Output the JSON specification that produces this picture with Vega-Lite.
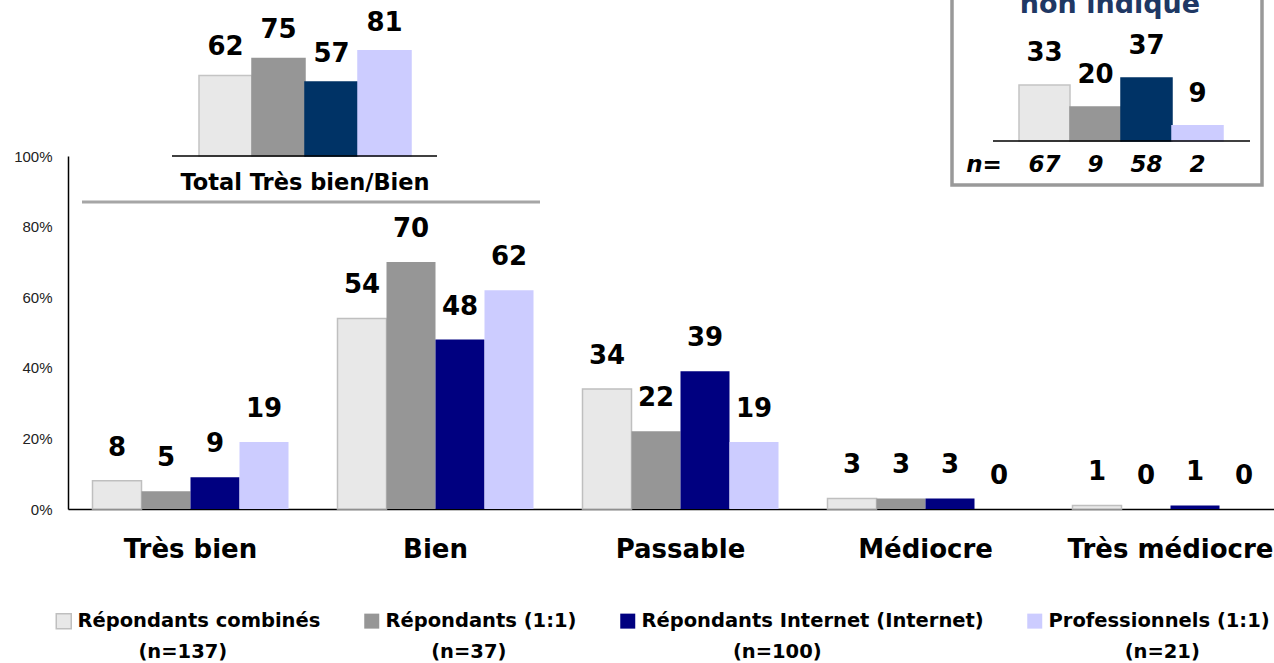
{
  "$schema": "https://vega.github.io/schema/vega-lite/v6.json",
  "width": 1225,
  "height": 353,
  "autosize": {"type": "none"},
  "padding": {"left": 68, "top": 156, "right": -19, "bottom": 154},
  "background": "white",
  "config": {"view": {"stroke": null}, "font": "DejaVu Sans"},
  "datasets": {
    "main": [
      {"cat": "Très bien", "series": "Répondants combinés", "value": 8},
      {"cat": "Très bien", "series": "Répondants (1:1)", "value": 5},
      {"cat": "Très bien", "series": "Répondants Internet (Internet)", "value": 9},
      {"cat": "Très bien", "series": "Professionnels (1:1)", "value": 19},
      {"cat": "Bien", "series": "Répondants combinés", "value": 54},
      {"cat": "Bien", "series": "Répondants (1:1)", "value": 70},
      {"cat": "Bien", "series": "Répondants Internet (Internet)", "value": 48},
      {"cat": "Bien", "series": "Professionnels (1:1)", "value": 62},
      {"cat": "Passable", "series": "Répondants combinés", "value": 34},
      {"cat": "Passable", "series": "Répondants (1:1)", "value": 22},
      {"cat": "Passable", "series": "Répondants Internet (Internet)", "value": 39},
      {"cat": "Passable", "series": "Professionnels (1:1)", "value": 19},
      {"cat": "Médiocre", "series": "Répondants combinés", "value": 3},
      {"cat": "Médiocre", "series": "Répondants (1:1)", "value": 3},
      {"cat": "Médiocre", "series": "Répondants Internet (Internet)", "value": 3},
      {"cat": "Médiocre", "series": "Professionnels (1:1)", "value": 0},
      {"cat": "Très médiocre", "series": "Répondants combinés", "value": 1},
      {"cat": "Très médiocre", "series": "Répondants (1:1)", "value": 0},
      {"cat": "Très médiocre", "series": "Répondants Internet (Internet)", "value": 1},
      {"cat": "Très médiocre", "series": "Professionnels (1:1)", "value": 0}
    ],
    "total": [
      {"series": "Répondants combinés", "value": 62},
      {"series": "Répondants (1:1)", "value": 75},
      {"series": "Répondants Internet (Internet)", "value": 57},
      {"series": "Professionnels (1:1)", "value": 81}
    ],
    "nonind": [
      {"series": "Répondants combinés", "value": 33, "n": "67"},
      {"series": "Répondants (1:1)", "value": 20, "n": "9"},
      {"series": "Répondants Internet (Internet)", "value": 37, "n": "58"},
      {"series": "Professionnels (1:1)", "value": 9, "n": "2"}
    ]
  },
  "layer": [
    {
      "data": {"name": "main"},
      "encoding": {
        "x": {
          "field": "cat", "type": "nominal",
          "sort": ["Très bien", "Bien", "Passable", "Médiocre", "Très médiocre"],
          "scale": {"paddingInner": 0.2, "paddingOuter": 0.1},
          "axis": {"title": null, "ticks": false, "domainColor": "black", "domainWidth": 1.5, "labelFont": "DejaVu Sans", "labelFontWeight": "bold", "labelFontSize": 26, "labelColor": "black", "labelPadding": 27, "labelAngle": 0, "labelLimit": 0}
        },
        "xOffset": {
          "field": "series", "type": "nominal",
          "scale": {"domain": ["Répondants combinés", "Répondants (1:1)", "Répondants Internet (Internet)", "Professionnels (1:1)"], "paddingInner": 0, "paddingOuter": 0}
        },
        "y": {
          "field": "value", "type": "quantitative",
          "scale": {"domain": [0, 100], "nice": false},
          "axis": {"title": null, "values": [0, 20, 40, 60, 80, 100], "labelExpr": "datum.value + '%'", "ticks": false, "grid": false, "domainColor": "black", "domainWidth": 1.5, "labelFont": "Liberation Sans", "labelFontSize": 15, "labelColor": "#222222", "labelPadding": 16}
        }
      },
      "layer": [
        {
          "mark": {"type": "bar", "strokeWidth": 1.5},
          "encoding": {
            "color": {
              "field": "series", "type": "nominal",
              "scale": {"domain": ["Répondants combinés", "Répondants (1:1)", "Répondants Internet (Internet)", "Professionnels (1:1)"], "range": ["#E8E8E8", "#969696", "#000080", "#CCCCFF"]},
              "legend": {
                "title": null, "orient": "none", "legendX": -14, "legendY": 455, "direction": "horizontal", "columns": 4, "padding": 0,
                "symbolType": "square", "symbolSize": 225, "symbolStrokeWidth": 1.5,
                "labelFont": "DejaVu Sans", "labelFontWeight": "bold", "labelFontSize": 19.5, "labelColor": "black", "labelOffset": 4, "columnPadding": 40, "labelLimit": 600,
                "labelExpr": "datum.label == 'Répondants combinés' ? ['Répondants combinés', '\u2800\u2800\u2800\u2800(n=137)'] : datum.label == 'Répondants (1:1)' ? ['Répondants (1:1)', '\u2800\u2800\u2800(n=37)'] : datum.label == 'Répondants Internet (Internet)' ? ['Répondants Internet (Internet)', '\u2800\u2800\u2800\u2800\u2800\u2800(n=100)'] : ['Professionnels (1:1)', '\u2800\u2800\u2800\u2800\u2800(n=21)']",
                "encode": {"labels": {"update": {"lineHeight": {"value": 31}}}}
              }
            },
            "stroke": {
              "field": "series", "type": "nominal",
              "scale": {"domain": ["Répondants combinés", "Répondants (1:1)", "Répondants Internet (Internet)", "Professionnels (1:1)"], "range": ["#BFBFBF", "rgba(0,0,0,0)", "rgba(0,0,0,0)", "rgba(0,0,0,0)"]},
              "legend": null
            }
          }
        },
        {
          "mark": {"type": "text", "fontSize": 26, "fontWeight": "bold", "font": "DejaVu Sans", "color": "black", "dy": -33, "baseline": "middle"},
          "encoding": {"text": {"field": "value", "type": "quantitative"}}
        }
      ]
    },
    {
      "data": {"name": "total"},
      "encoding": {
        "x": {
          "field": "series", "type": "nominal",
          "scale": {"domain": ["Répondants combinés", "Répondants (1:1)", "Répondants Internet (Internet)", "Professionnels (1:1)"], "range": [131, 343], "paddingInner": 0, "paddingOuter": 0},
          "axis": null
        },
        "y": {"field": "value", "type": "quantitative", "scale": {"domain": [-271.5, 0], "nice": false, "zero": false}, "axis": null}
      },
      "layer": [
        {
          "mark": {"type": "bar", "strokeWidth": 1.5},
          "encoding": {
            "y2": {"datum": 0},
            "color": {"field": "series", "type": "nominal", "scale": {"domain": ["Répondants combinés", "Répondants (1:1)", "Répondants Internet (Internet)", "Professionnels (1:1)"], "range": ["#E8E8E8", "#969696", "#003366", "#CCCCFF"]}, "legend": null},
            "stroke": {"field": "series", "type": "nominal", "scale": {"domain": ["Répondants combinés", "Répondants (1:1)", "Répondants Internet (Internet)", "Professionnels (1:1)"], "range": ["#C4C4C4", "#969696", "#003366", "#CCCCFF"]}, "legend": null}
          }
        },
        {
          "mark": {"type": "text", "fontSize": 26, "fontWeight": "bold", "font": "DejaVu Sans", "color": "black", "dy": -28, "baseline": "middle"},
          "encoding": {"text": {"field": "value", "type": "quantitative"}}
        },
        {
          "data": {"values": [{"anchor": "Répondants combinés", "level": 0}]},
          "mark": {"type": "rule", "color": "black", "strokeWidth": 1.5, "xOffset": -27, "x2Offset": 238},
          "encoding": {
            "x": {"field": "anchor", "type": "nominal", "bandPosition": 0},
            "x2": {"field": "anchor", "bandPosition": 0},
            "y": {"field": "level", "type": "quantitative"}
          }
        },
        {
          "data": {"values": [{"anchor": "Répondants combinés", "level": -35.4}]},
          "mark": {"type": "rule", "color": "#A6A6A6", "strokeWidth": 3, "xOffset": -117, "x2Offset": 341},
          "encoding": {
            "x": {"field": "anchor", "type": "nominal", "bandPosition": 0},
            "x2": {"field": "anchor", "bandPosition": 0},
            "y": {"field": "level", "type": "quantitative"}
          }
        },
        {
          "data": {"values": [{"label": "Total Très bien/Bien", "anchor": "Répondants Internet (Internet)", "level": -20.4}]},
          "mark": {"type": "text", "fontSize": 22.5, "fontWeight": "bold", "font": "DejaVu Sans", "color": "black", "baseline": "middle", "align": "center"},
          "encoding": {
            "text": {"field": "label", "type": "nominal"},
            "x": {"field": "anchor", "type": "nominal", "bandPosition": 0},
            "y": {"field": "level", "type": "quantitative"}
          }
        }
      ]
    },
    {
      "data": {"name": "nonind"},
      "encoding": {
        "x": {
          "field": "series", "type": "nominal",
          "scale": {"domain": ["Répondants combinés", "Répondants (1:1)", "Répondants Internet (Internet)", "Professionnels (1:1)"], "range": [951, 1155], "paddingInner": 0, "paddingOuter": 0},
          "axis": null
        },
        "y": {"field": "value", "type": "quantitative", "scale": {"domain": [-216.5, -8.82], "nice": false, "zero": false}, "axis": null}
      },
      "layer": [
        {
          "data": {"values": [{"anchor": "Répondants combinés", "top": 90, "bottom": -25.9}]},
          "mark": {"type": "rect", "fill": "white", "fillOpacity": 0, "stroke": "#999999", "strokeWidth": 3.5, "xOffset": -67, "x2Offset": 243},
          "encoding": {
            "x": {"field": "anchor", "type": "nominal", "bandPosition": 0},
            "x2": {"field": "anchor", "bandPosition": 0},
            "y": {"field": "top", "type": "quantitative"},
            "y2": {"field": "bottom"}
          }
        },
        {
          "mark": {"type": "bar", "strokeWidth": 1.5},
          "encoding": {
            "y2": {"datum": 0},
            "color": {"field": "series", "type": "nominal", "scale": {"domain": ["Répondants combinés", "Répondants (1:1)", "Répondants Internet (Internet)", "Professionnels (1:1)"], "range": ["#E8E8E8", "#969696", "#003366", "#CCCCFF"]}, "legend": null},
            "stroke": {"field": "series", "type": "nominal", "scale": {"domain": ["Répondants combinés", "Répondants (1:1)", "Répondants Internet (Internet)", "Professionnels (1:1)"], "range": ["#C4C4C4", "#969696", "#003366", "#CCCCFF"]}, "legend": null}
          }
        },
        {
          "mark": {"type": "text", "fontSize": 26, "fontWeight": "bold", "font": "DejaVu Sans", "color": "black", "dy": -32, "baseline": "middle"},
          "encoding": {"text": {"field": "value", "type": "quantitative"}}
        },
        {
          "mark": {"type": "text", "fontSize": 23, "fontWeight": "bold", "fontStyle": "italic", "font": "DejaVu Sans", "color": "black", "baseline": "middle"},
          "encoding": {"text": {"field": "n", "type": "nominal"}, "y": {"datum": -14.1, "type": "quantitative"}}
        },
        {
          "data": {"values": [{"label": "n=", "anchor": "Répondants combinés", "level": -14.1}]},
          "mark": {"type": "text", "fontSize": 23, "fontWeight": "bold", "fontStyle": "italic", "font": "DejaVu Sans", "color": "black", "baseline": "middle", "align": "center", "xOffset": -35},
          "encoding": {
            "text": {"field": "label", "type": "nominal"},
            "x": {"field": "anchor", "type": "nominal", "bandPosition": 0},
            "y": {"field": "level", "type": "quantitative"}
          }
        },
        {
          "data": {"values": [{"anchor": "Répondants combinés", "level": 0}]},
          "mark": {"type": "rule", "color": "black", "strokeWidth": 1.5, "xOffset": -26, "x2Offset": 231},
          "encoding": {
            "x": {"field": "anchor", "type": "nominal", "bandPosition": 0},
            "x2": {"field": "anchor", "bandPosition": 0},
            "y": {"field": "level", "type": "quantitative"}
          }
        },
        {
          "data": {"values": [{"label": "non indiqué", "anchor": "Répondants Internet (Internet)", "level": 75.5}]},
          "mark": {"type": "text", "fontSize": 27, "fontWeight": "bold", "font": "DejaVu Sans", "color": "#1F3864", "baseline": "alphabetic", "align": "center", "xOffset": -11},
          "encoding": {
            "text": {"field": "label", "type": "nominal"},
            "x": {"field": "anchor", "type": "nominal", "bandPosition": 0},
            "y": {"field": "level", "type": "quantitative"}
          }
        }
      ]
    }
  ],
  "resolve": {"scale": {"x": "independent", "y": "independent", "color": "independent", "stroke": "independent"}}
}
